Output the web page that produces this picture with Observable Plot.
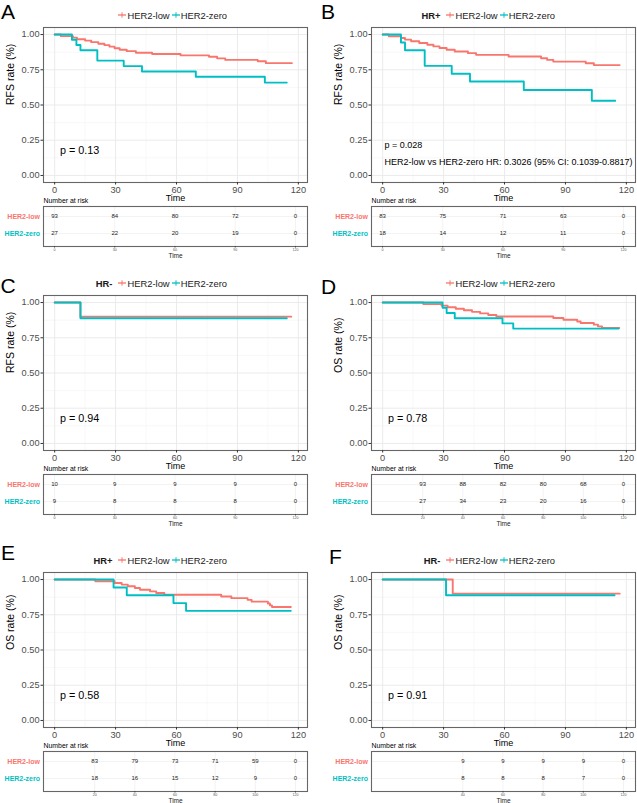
<!DOCTYPE html>
<html>
<head>
<meta charset="utf-8">
<script src="https://cdn.jsdelivr.net/npm/d3@7"></script>
<script src="https://cdn.jsdelivr.net/npm/@observablehq/plot@0.6"></script>
<style>
  body { margin: 0; background: #fff; }
  #root { position: relative; width: 637px; height: 803px; overflow: hidden; background: #fff;
          font-family: "Liberation Sans", Arial, Helvetica, sans-serif; }
</style>
</head>
<body>
<div id="root"></div>
<script>
// ---------------- DATA ----------------
// Kaplan-Meier step points: [time, survival]
const A_low  = [[0,1],[3,0.989],[9,0.978],[11,0.967],[15,0.957],[18,0.946],[21.5,0.935],[24.5,0.925],[27,0.914],[29.5,0.903],[32,0.892],[35.5,0.882],[40,0.871],[48,0.862],[62,0.852],[76,0.842],[80,0.831],[84,0.82],[100,0.81],[104,0.797],[116.8,0.797]];
const A_zero = [[0,1],[8.5,0.963],[10.7,0.926],[12.7,0.889],[21,0.815],[34,0.776],[43,0.738],[69.5,0.70],[103.5,0.659],[114.3,0.659]];
const A_low_cens  = [50,56,70,88,94,108,111,114,116];
const A_zero_cens = [93,110];

const B_low  = [[0,1],[3,0.988],[9,0.976],[11,0.964],[14,0.952],[18,0.94],[22,0.928],[25,0.916],[28,0.904],[31.5,0.892],[35.5,0.88],[42,0.868],[46,0.856],[62,0.844],[78,0.832],[81,0.82],[84,0.808],[100,0.796],[104,0.783],[116.7,0.783]];
const B_zero = [[0,1],[9,0.944],[11,0.889],[20.7,0.778],[34,0.722],[43,0.667],[69.5,0.606],[103,0.53],[114.5,0.53]];
const B_low_cens  = [52,88,93,107,109,111,113,115];
const B_zero_cens = [88.5,94.5,108,111];

const C_low  = [[0,1],[12.7,0.9],[116.5,0.9]];
const C_zero = [[0,1],[12.7,0.889],[114.3,0.889]];
const C_low_cens  = [106,108,110,112,114,116];
const C_zero_cens = [109,112];

const D_low  = [[0,1],[20,0.989],[29,0.978],[32,0.967],[36,0.956],[40,0.945],[44,0.934],[48,0.923],[52,0.912],[56,0.901],[84,0.89],[89,0.878],[95.8,0.866],[97.5,0.855],[104,0.843],[106,0.831],[108,0.82],[116.5,0.82]];
const D_zero = [[0,1],[29.5,0.963],[31.5,0.926],[35.5,0.889],[59,0.852],[64.3,0.815],[116.2,0.815]];
const D_low_cens  = [62,70,76,109,110.5,112,113.5,115,116.5];
const D_zero_cens = [88,100,112];

const E_low  = [[0,1],[20,0.988],[29.5,0.976],[33,0.964],[36,0.952],[39.5,0.94],[42,0.928],[47,0.916],[50,0.904],[54,0.892],[82,0.88],[87,0.868],[95,0.856],[97,0.843],[105,0.83],[106,0.817],[107,0.805],[116.3,0.805]];
const E_zero = [[0,1],[29,0.944],[35.5,0.889],[58.5,0.833],[64.7,0.778],[116.3,0.778]];
const E_low_cens  = [56,62,72,84,92,108,110,112,114];
const E_zero_cens = [87.3,92.8,105.6,108,110.5,113];

const F_low  = [[0,1],[34.5,0.9],[116.7,0.9]];
const F_zero = [[0,1],[31.2,0.889],[114.2,0.889]];
const F_low_cens  = [107,109,111,113,115,116.7];
const F_zero_cens = [109,112];

// Numbers at risk
const riskT_ABC = [0,30,60,90,120];
const riskT_DE  = [20,40,60,80,100,120];
const riskT_F   = [40,60,80,100,120];
const risk_A_low = [93,84,80,72,0],    risk_A_zero = [27,22,20,19,0];
const risk_B_low = [83,75,71,63,0],    risk_B_zero = [18,14,12,11,0];
const risk_C_low = [10,9,9,9,0],       risk_C_zero = [9,8,8,8,0];
const risk_D_low = [93,88,82,80,68,0], risk_D_zero = [27,34,23,20,16,0];
const risk_E_low = [83,79,73,71,59,0], risk_E_zero = [18,16,15,12,9,0];
const risk_F_low = [9,9,9,9,0],        risk_F_zero = [8,8,8,7,0];

// Axis ticks & labels
const xTicks = [0,30,60,90,120];
const xMinor = [15,45,75,105];
const yTicks = [0,0.25,0.5,0.75,1];
const yMinor = [0.125,0.375,0.625,0.875];
const groups = ["HER2-low","HER2-zero"];
const pvals = {A:"p = 0.13", B:"p = 0.028", C:"p = 0.94", D:"p = 0.78", E:"p = 0.58", F:"p = 0.91"};
const hrB = "HER2-low vs HER2-zero HR: 0.3026 (95% CI: 0.1039-0.8817)";

// ---------------- LAYOUT ----------------
const RED = "#F8766D", TEAL = "#00BFC4";
const FONT = "'Liberation Sans', Arial, Helvetica, sans-serif";
const rowTop = [0, 268, 545];
const colLeft = [0, 318];
const colWidth = [318, 319];
const frameL = [43, 371], frameR = [307, 635];
const legendRight = [227, 555];

const panels = [
  {id:"A", col:0, row:0, lx:1,   ly:19.3, title:null,  ylab:"RFS rate (%)", low:A_low, zero:A_zero, lc:A_low_cens, zc:A_zero_cens, rt:riskT_ABC, rl:risk_A_low, rz:risk_A_zero},
  {id:"B", col:1, row:0, lx:321, ly:19.3, title:"HR+", ylab:"RFS rate (%)", low:B_low, zero:B_zero, lc:B_low_cens, zc:B_zero_cens, rt:riskT_ABC, rl:risk_B_low, rz:risk_B_zero, hr:hrB},
  {id:"C", col:0, row:1, lx:0.5, ly:292.5, title:"HR-", ylab:"RFS rate (%)", low:C_low, zero:C_zero, lc:C_low_cens, zc:C_zero_cens, rt:riskT_ABC, rl:risk_C_low, rz:risk_C_zero},
  {id:"D", col:1, row:1, lx:321, ly:293.5, title:null,  ylab:"OS rate (%)",  low:D_low, zero:D_zero, lc:D_low_cens, zc:D_zero_cens, rt:riskT_DE, rl:risk_D_low, rz:risk_D_zero},
  {id:"E", col:0, row:2, lx:1,   ly:560, title:"HR+", ylab:"OS rate (%)",  low:E_low, zero:E_zero, lc:E_low_cens, zc:E_zero_cens, rt:riskT_DE, rl:risk_E_low, rz:risk_E_zero},
  {id:"F", col:1, row:2, lx:329, ly:563.5, title:"HR-", ylab:"OS rate (%)",  low:F_low, zero:F_zero, lc:F_low_cens, zc:F_zero_cens, rt:riskT_F, rl:risk_F_low, rz:risk_F_zero}
];

function stepAt(curve, t) { let s = curve[0][1]; for (const [ti, si] of curve) if (ti <= t) s = si; return s; }
const rows = curve => curve.map(([t, s]) => ({t, s}));
const cens = (curve, times) => times.map(t => ({t, s: stepAt(curve, t)}));

const root = document.getElementById("root");
const plotStyle = {fontFamily: FONT, background: "transparent", overflow: "visible"};

for (const p of panels) {
  const L = colLeft[p.col], W = colWidth[p.col], T = rowTop[p.row];
  const mL = frameL[p.col] - L, mR = L + W - frameR[p.col];

  const textMarks = p.hr ? [
    Plot.text([pvals[p.id]], {text: d => d, frameAnchor: "bottom-left", dx: 13, dy: -37, textAnchor: "start", lineAnchor: "middle", fontSize: 9, fill: "#000"}),
    Plot.text([p.hr], {text: d => d, frameAnchor: "bottom-left", dx: 13, dy: -20.3, textAnchor: "start", lineAnchor: "middle", fontSize: 9, fill: "#000"})
  ] : [
    Plot.text([pvals[p.id]], {text: d => d, frameAnchor: "bottom-left", dx: 16.5, dy: -32, textAnchor: "start", lineAnchor: "middle", fontSize: 10.8, fill: "#000"})
  ];

  const surv = Plot.plot({
    width: W, height: 188,
    marginLeft: mL, marginRight: mR, marginTop: 7, marginBottom: 26,
    style: plotStyle,
    x: {domain: [-5.5, 124.5]},
    y: {domain: [-0.05, 1.05]},
    marks: [
      Plot.gridX(xMinor, {stroke: "#f3f3f3", strokeOpacity: 1, strokeWidth: 0.6}),
      Plot.gridY(yMinor, {stroke: "#f3f3f3", strokeOpacity: 1, strokeWidth: 0.6}),
      Plot.gridX(xTicks, {stroke: "#e9e9e9", strokeOpacity: 1, strokeWidth: 0.9}),
      Plot.gridY(yTicks, {stroke: "#e9e9e9", strokeOpacity: 1, strokeWidth: 0.9}),
      Plot.line(rows(p.low), {x: "t", y: "s", curve: "step-after", stroke: RED, strokeWidth: 1.9}),
      Plot.dot(cens(p.low, p.lc), {x: "t", y: "s", symbol: "plus", r: 2, fill: RED}),
      Plot.line(rows(p.zero), {x: "t", y: "s", curve: "step-after", stroke: TEAL, strokeWidth: 1.9}),
      Plot.dot(cens(p.zero, p.zc), {x: "t", y: "s", symbol: "plus", r: 2, fill: TEAL}),
      Plot.frame({stroke: "#666", strokeWidth: 1.1}),
      Plot.axisX(xTicks, {tickSize: 2.5, tickPadding: 1.5, fontSize: 9.2, stroke: "#333", fill: "#4d4d4d", label: null}),
      Plot.axisY(yTicks, {tickSize: 2.5, tickPadding: 1.5, fontSize: 9.2, stroke: "#333", fill: "#4d4d4d", tickFormat: d3.format(".2f"), label: null}),
      Plot.text([p.ylab], {text: d => d, frameAnchor: "left", rotate: -90, dx: -33, fontSize: 10.5, fill: "#000"}),
      Plot.text(["Time"], {text: d => d, frameAnchor: "bottom", dy: 16, lineAnchor: "middle", fontSize: 9, fill: "#000"}),
      ...textMarks
    ]
  });
  surv.style.position = "absolute";
  surv.style.left = L + "px";
  surv.style.top = (T + 20) + "px";
  root.append(surv);

  const riskRows = [
    ...p.rt.map((t, i) => ({t, g: groups[0], n: p.rl[i]})),
    ...p.rt.map((t, i) => ({t, g: groups[1], n: p.rz[i]}))
  ];

  const table = Plot.plot({
    width: W, height: 64,
    marginLeft: mL, marginRight: mR, marginTop: 10, marginBottom: 14,
    style: plotStyle,
    x: {domain: [-5.5, 126]},
    y: {type: "point", domain: groups, range: [20, 37], padding: 0, axis: null},
    marks: [
      Plot.gridX(p.rt, {stroke: "#eeeeee", strokeOpacity: 1, strokeWidth: 0.7}),
      Plot.gridY(groups, {stroke: "#eeeeee", strokeOpacity: 1, strokeWidth: 0.7}),
      Plot.frame({stroke: "#666", strokeWidth: 1.1}),
      Plot.text(riskRows, {x: "t", y: "g", text: d => String(d.n), fontSize: 6, fill: "#222"}),
      Plot.text([groups[0]], {y: d => d, text: d => d, frameAnchor: "left", dx: -3.5, textAnchor: "end", fontSize: 7, fontWeight: "bold", fill: RED}),
      Plot.text([groups[1]], {y: d => d, text: d => d, frameAnchor: "left", dx: -3.5, textAnchor: "end", fontSize: 7, fontWeight: "bold", fill: TEAL}),
      Plot.text(["Number at risk"], {text: d => d, frameAnchor: "top-left", dy: -6, textAnchor: "start", lineAnchor: "middle", fontSize: 6.9, fill: "#000"}),
      Plot.axisX(p.rt, {tickSize: 1.5, tickPadding: 0.6, fontSize: 3.6, stroke: "#444", fill: "#555", label: null}),
      Plot.text(["Time"], {text: d => d, frameAnchor: "bottom", dy: 9, lineAnchor: "middle", fontSize: 6.5, fill: "#222"})
    ]
  });
  table.style.position = "absolute";
  table.style.left = L + "px";
  table.style.top = (T + 196) + "px";
  root.append(table);

  // legend
  const key = c => `<svg width="8" height="8" style="flex:none;margin-right:1px"><line x1="0" y1="4" x2="8" y2="4" stroke="${c}" stroke-width="1.3"/><line x1="4" y1="1.3" x2="4" y2="6.7" stroke="${c}" stroke-width="1"/></svg>`;
  const leg = document.createElement("div");
  leg.style.cssText = `position:absolute;top:${T + 15 - 6}px;right:${637 - legendRight[p.col]}px;height:12px;display:flex;align-items:center;font-size:9.4px;color:#1a1a1a;white-space:nowrap;font-family:${FONT};`;
  leg.innerHTML = (p.title ? `<span style="font-weight:bold;margin-right:6px">${p.title}</span>` : "") +
    key(RED) + `<span>${groups[0]}</span><span style="width:2px"></span>` + key(TEAL) + `<span>${groups[1]}</span>`;
  root.append(leg);
}

// panel letters
const ov = d3.create("svg")
  .attr("width", 637).attr("height", 803)
  .style("position", "absolute").style("left", "0px").style("top", "0px").style("pointer-events", "none");
ov.selectAll("text").data(panels).join("text")
  .attr("x", d => d.lx).attr("y", d => d.ly)
  .attr("font-size", 21).attr("font-family", FONT).attr("fill", "#000")
  .text(d => d.id);
root.append(ov.node());
</script>
</body>
</html>
